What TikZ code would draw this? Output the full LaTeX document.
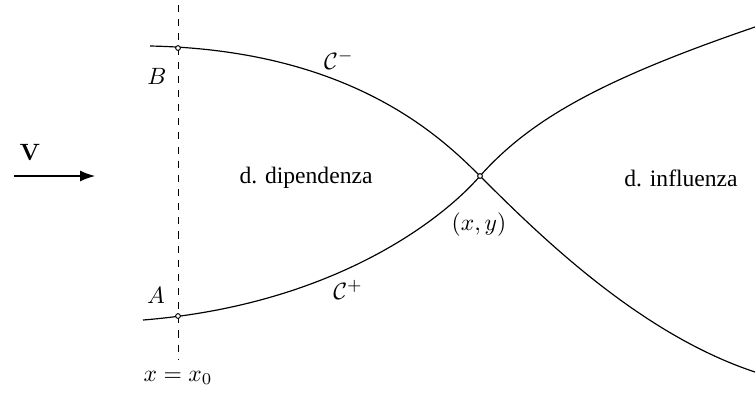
\documentclass[tikz,border=0pt]{standalone}
\usepackage[no-math]{fontspec}
\setmainfont{Liberation Serif}
\usetikzlibrary{positioning,arrows.meta}

\begin{document}
\begin{tikzpicture}[x=0.424pt,y=-0.424pt,
    every node/.style={font=\normalsize},
    dot/.style={circle,draw,fill=white,line width=0.4pt,inner sep=0pt,minimum size=2pt}]
  \useasboundingbox (0,0) rectangle (756,393);
  % punti e estremi
  \coordinate (top) at (178,5);
  \coordinate (bot) at (178,360);
  \coordinate (mL) at (150,46);
  \coordinate (pL) at (143,320);
  \coordinate (mR) at (755,372);
  \coordinate (pR) at (755,27);
  \coordinate (P) at (480,176);
  \coordinate (vs) at (14,176);
  \coordinate (ve) at (95,176);

  \draw[dashed,line width=0.4pt] (top) -- (bot);
  % curve caratteristiche
  \draw[line width=0.5pt] (mL) .. controls (350,50) and (440,136) .. (P)
        .. controls (540,236) and (640,334) .. (mR);
  \draw[line width=0.5pt] (pL) .. controls (330,305) and (440,222) .. (P)
        .. controls (530,120) and (600,80) .. (pR);
  \draw[-{Latex[length=2.2mm,width=1.6mm]},line width=0.5pt] (vs) -- (ve);

  \node[dot] (B) at (178,48) {};
  \node[dot] (A) at (178,316) {};
  \node[dot] (X) at (P) {};

  \node (lB) at (157,76) {$B$};
  \node (lA) at (156,295) {$A$};
  \node (lx0) at (178,378) {$x=x_0$};
  \node (lV) at (30,152) {$\mathbf{V}$};
  \node (lCm) at (339,60) {$\mathcal{C}^-$};
  \node (lCp) at (348,290) {$\mathcal{C}^+$};
  \node (lP) at (479,225) {$(x,y)$};
  \node (dip) at (306,178) {d. dipendenza};
  \node (inf) at (681,178) {d. influenza};
\end{tikzpicture}
\end{document}
